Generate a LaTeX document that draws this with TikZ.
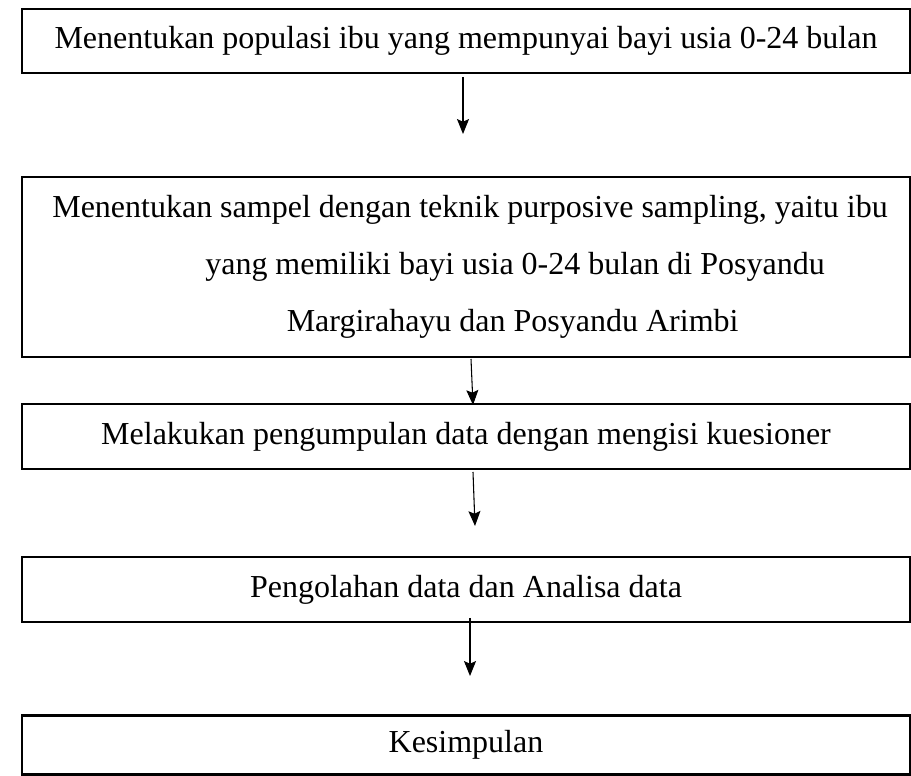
\documentclass[tikz,border=0pt]{standalone}
\usepackage{fontspec}
\setmainfont{Liberation Serif}
\usetikzlibrary{arrows.meta}

\begin{document}
\begin{tikzpicture}[x=0.375pt,y=-0.375pt]
					\tikzstyle{stepbox} = [rectangle,draw=black,line width=1pt,minimum width=333pt,inner sep=0pt,align=center,font=\fontsize{12pt}{21.4pt}\selectfont]
					\tikzstyle{edge} = [-{Stealth[length=5.6pt,width=4.5pt,inset=1pt]},line width=0.4pt]
					\useasboundingbox (0,0) rectangle (911,776);
					\node[stepbox,minimum height=24pt] (s1) at (466,41) {Menentukan populasi ibu yang mempunyai bayi usia 0-24 bulan};
					\node[stepbox,minimum height=67.5pt] (s2) at (466,267) {\hspace*{3pt}Menentukan sampel dengan teknik purposive sampling, yaitu ibu\\ \hspace*{36.8pt}yang memiliki bayi usia 0-24 bulan di Posyandu\\ \hspace*{35pt}Margirahayu dan Posyandu Arimbi};
					\node[stepbox,minimum height=24.4pt] (s3) at (466,436.5) {Melakukan pengumpulan data dengan mengisi kuesioner};
					\node[stepbox,minimum height=24.4pt] (s4) at (466,589.5) {Pengolahan data dan Analisa data};
					\node[stepbox,minimum height=21.9pt] (s5) at (466,745) {Kesimpulan};
					\coordinate (a1) at (463,77);
					\coordinate (b1) at (463,134);
					\coordinate (a2) at (471,359);
					\coordinate (b2) at (473,405);
					\coordinate (a3) at (473,472);
					\coordinate (b3) at (475,526);
					\coordinate (a4) at (470,618);
					\coordinate (b4) at (470,676);
					\draw[edge] (a1)--(b1);
					\draw[edge] (a2)--(b2);
					\draw[edge] (a3)--(b3);
					\draw[edge] (a4)--(b4);
\end{tikzpicture}
\end{document}
